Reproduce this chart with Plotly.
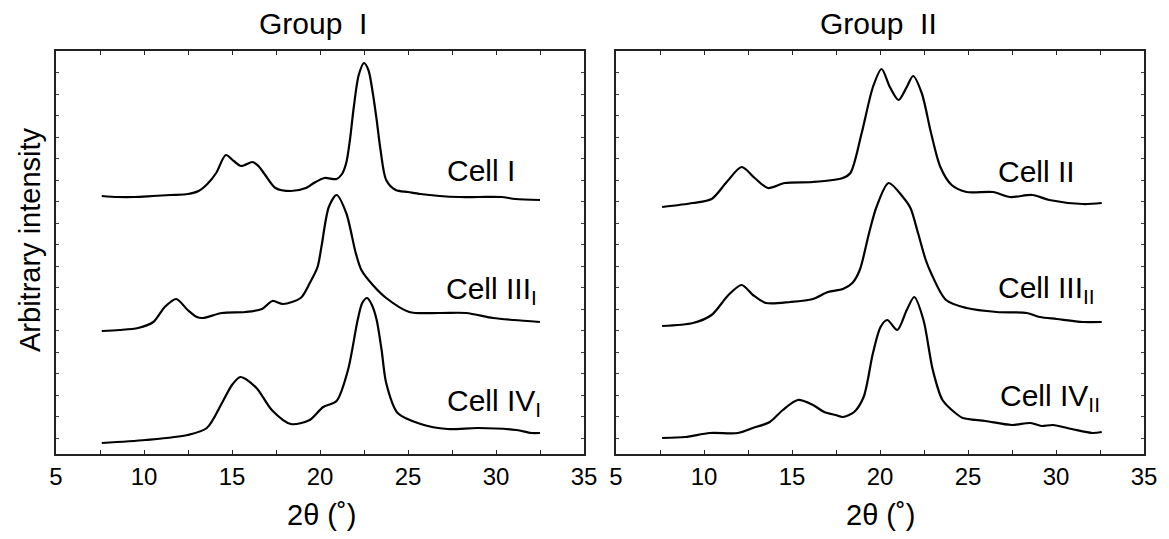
import plotly.graph_objects as go

# ---- data (2θ in degrees, arbitrary intensity) ----
cell_I_x = [7.6, 8.5, 9.45, 10.5, 11.5, 12.5, 13.1, 13.6, 14.1, 14.65, 15.1, 15.52, 16.17, 16.5, 16.85, 17.47,
            18.34, 19.2, 19.65, 20.25, 20.94, 21.25, 21.49, 21.7, 21.92, 22.2, 22.5, 22.75, 23.0, 23.22, 23.44,
            23.76, 24.3, 25.0, 25.7, 26.8, 27.9, 29.0, 30.3, 31.1, 32.5]
cell_I_y = [258, 257, 257, 258, 259, 260, 263, 270, 281, 299, 293, 288, 292, 288, 280, 266,
            263, 266, 271, 276, 275, 280, 291, 314, 347, 379, 391, 384, 361, 334, 304,
            274, 264, 262, 260, 258, 257, 257, 257, 255, 254]

cell_IIII_x = [7.6, 8.6, 9.66, 10.53, 11.18, 11.83, 12.48, 13.0, 13.35, 14.43, 15.74, 16.7, 17.3, 17.9, 18.9,
               19.42, 19.86, 20.08, 20.5, 20.94, 21.49, 22.03, 22.35, 23.0, 23.76, 25.07, 26.8, 28.3, 29.83,
               31.0, 32.5]
cell_IIII_y = [123, 124, 126, 132, 147, 155, 144, 137, 136, 141, 142, 145, 153, 150, 156,
               171, 187, 207, 247, 259, 241, 201, 184, 169, 156, 142, 141, 141, 136,
               134, 132]

cell_IVI_x = [7.6, 10.1, 12.48, 13.57, 14.43, 15.0, 15.48, 16.39, 17.26, 18.34, 19.42, 20.18, 20.94, 21.59,
              22.14, 22.4, 22.68, 22.95, 23.22, 23.5, 23.76, 24.41, 25.72, 27.23, 28.97, 31.15, 32.0, 32.5]
cell_IVI_y = [11, 14, 19, 26, 51, 69, 77, 66, 44, 30, 34, 47, 53, 84,
              134, 151, 156, 149, 134, 104, 71, 41, 30, 25, 26, 24, 21, 21]

cell_II_x = [7.62, 9.37, 10.43, 11.29, 12.14, 12.88, 13.63, 14.59, 16.19, 17.89, 18.32, 18.96, 19.6, 20.09,
             20.56, 21.05, 21.52, 21.88, 22.37, 22.9, 23.43, 24.07, 24.92, 26.42, 27.38, 28.66, 29.62,
             31.53, 32.6]
cell_II_y = [247, 251, 255, 272, 287, 276, 266, 271, 272, 276, 281, 321, 367, 385,
             367, 354, 367, 378, 361, 321, 287, 269, 262, 262, 257, 259, 254,
             250, 251]

cell_IIIII_x = [7.62, 9.37, 10.43, 11.39, 12.14, 12.78, 13.52, 14.91, 16.19, 17.04, 17.89, 18.43, 18.85,
                19.38, 19.8, 20.49, 21.3, 21.73, 22.16, 22.6, 22.9, 23.75, 24.92, 26.63, 28.34, 29.08,
                30.04, 31.53, 32.6]
cell_IIIII_y = [128, 131, 139, 159, 169, 159, 151, 152, 155, 162, 165, 171, 184,
                221, 247, 271, 257, 246, 221, 194, 181, 154, 146, 142, 141, 137,
                135, 132, 132]

cell_IVII_x = [7.62, 8.94, 10.33, 11.93, 12.78, 13.74, 14.48, 15.33, 16.19, 16.83, 17.47, 17.89, 18.53,
               19.07, 19.6, 20.03, 20.41, 20.98, 21.52, 21.95, 22.47, 23.0, 23.55, 24.28, 24.71, 25.99,
               27.48, 28.55, 29.18, 29.82, 30.89, 32.07, 32.6]
cell_IVII_y = [16, 17, 21, 21, 26, 32, 44, 54, 49, 42, 39, 37, 42,
               57, 101, 127, 134, 124, 144, 157, 134, 84, 54, 41, 36, 33,
               29, 31, 28, 29, 25, 21, 22]

left_series = [(cell_I_x, cell_I_y), (cell_IIII_x, cell_IIII_y), (cell_IVI_x, cell_IVI_y)]
right_series = [(cell_II_x, cell_II_y), (cell_IIIII_x, cell_IIIII_y), (cell_IVII_x, cell_IVII_y)]

FONT = "Liberation Sans, Arial, sans-serif"
LINE = dict(color="black", width=2.2, shape="spline", smoothing=0.8)

fig = go.Figure()
for xs, ys in left_series:
    fig.add_trace(go.Scatter(x=xs, y=ys, mode="lines", xaxis="x", yaxis="y",
                             line=LINE, showlegend=False, hoverinfo="skip"))
for xs, ys in right_series:
    fig.add_trace(go.Scatter(x=xs, y=ys, mode="lines", xaxis="x2", yaxis="y2",
                             line=LINE, showlegend=False, hoverinfo="skip"))

W, H = 1169, 539
ml, mr, mt, mb = 56, 25, 51, 85
pw = W - ml - mr
ph = H - mt - mb

def px(x):
    return (x - ml) / pw

def py(y):
    return (H - mb - y) / ph

xaxis_common = dict(range=[5, 35], dtick=5, tick0=5, ticks="inside", ticklen=4, tickwidth=1,
                    tickcolor="#222", showline=True, linecolor="#222", linewidth=1.8, mirror="ticks",
                    showgrid=False, zeroline=False,
                    minor=dict(dtick=2.5, ticks="inside", ticklen=4, tickcolor="#222", showgrid=False),
                    tickfont=dict(family=FONT, size=24, color="black"))
yaxis_common = dict(range=[0, 403], tick0=16, dtick=21.5, ticks="inside", ticklen=3, tickwidth=1,
                    tickcolor="#444", showline=True, linecolor="#222", linewidth=1.8, mirror="ticks",
                    showticklabels=False, showgrid=False, zeroline=False)

fig.update_layout(
    width=W, height=H,
    margin=dict(l=ml, r=mr, t=mt, b=mb),
    paper_bgcolor="white", plot_bgcolor="white",
    xaxis=dict(domain=[0, px(584)], **xaxis_common),
    xaxis2=dict(domain=[px(616), 1], anchor="y2", **xaxis_common),
    yaxis=dict(domain=[0, 1], anchor="x", **yaxis_common),
    yaxis2=dict(domain=[0, 1], anchor="x2", **yaxis_common),
    font=dict(family=FONT, color="black"),
)

annotations = [
    dict(text="Group\u00a0\u00a0I", x=px(313), y=py(24), size=30, xanchor="center", angle=0),
    dict(text="Group\u00a0\u00a0II", x=px(878), y=py(24), size=30, xanchor="center", angle=0),
    dict(text="2θ (˚)", x=px(321), y=py(515), size=29, xanchor="center", angle=0),
    dict(text="2θ (˚)", x=px(880), y=py(515), size=29, xanchor="center", angle=0),
    dict(text="Arbitrary intensity", x=px(30), y=py(240), size=29, xanchor="center", angle=-90),
    dict(text="Cell I", x=px(445), y=py(170), size=30, xanchor="left", angle=0),
    dict(text="Cell III<sub>I</sub>", x=px(444), y=py(290), size=30, xanchor="left", angle=0),
    dict(text="Cell IV<sub>I</sub>", x=px(445), y=py(402), size=30, xanchor="left", angle=0),
    dict(text="Cell II", x=px(996), y=py(172), size=30, xanchor="left", angle=0),
    dict(text="Cell III<sub>II</sub>", x=px(996), y=py(289), size=30, xanchor="left", angle=0),
    dict(text="Cell IV<sub>II</sub>", x=px(998), y=py(397), size=30, xanchor="left", angle=0),
]
for a in annotations:
    fig.add_annotation(text=a["text"], x=a["x"], y=a["y"], xref="paper", yref="paper",
                       xanchor=a["xanchor"], yanchor="middle", showarrow=False,
                       textangle=a["angle"], font=dict(family=FONT, size=a["size"], color="black"))

fig.write_html("out.html")
